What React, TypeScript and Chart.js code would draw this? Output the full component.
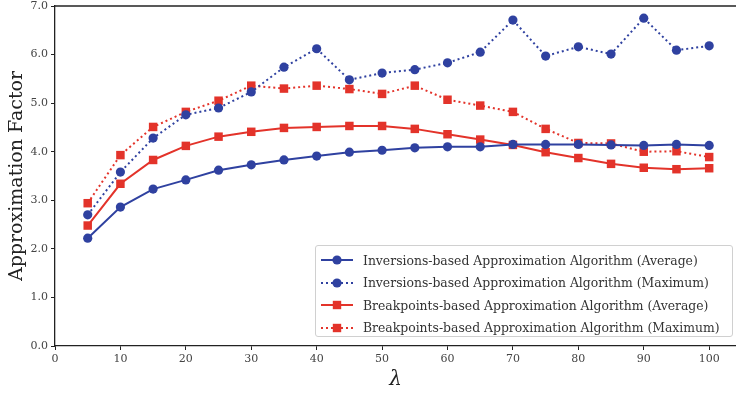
import React, { useEffect, useRef } from 'react';
import { Chart, registerables } from 'chart.js';

Chart.register(...registerables);

const lambdas = [5, 10, 15, 20, 25, 30, 35, 40, 45, 50, 55, 60, 65, 70, 75, 80, 85, 90, 95, 100];
const invAvg = [2.22, 2.86, 3.23, 3.42, 3.62, 3.73, 3.83, 3.91, 3.99, 4.03, 4.08, 4.10, 4.10, 4.15, 4.15, 4.15, 4.14, 4.13, 4.15, 4.13];
const invMax = [2.70, 3.58, 4.28, 4.76, 4.90, 5.23, 5.74, 6.12, 5.48, 5.62, 5.69, 5.83, 6.05, 6.71, 5.97, 6.16, 6.01, 6.75, 6.09, 6.18];
const bpAvg = [2.48, 3.34, 3.83, 4.12, 4.31, 4.41, 4.49, 4.51, 4.53, 4.53, 4.47, 4.36, 4.25, 4.14, 3.99, 3.87, 3.75, 3.67, 3.64, 3.66];
const bpMax = [2.94, 3.93, 4.51, 4.82, 5.05, 5.36, 5.30, 5.36, 5.29, 5.19, 5.36, 5.07, 4.95, 4.82, 4.47, 4.18, 4.17, 4.00, 4.01, 3.89];
const seriesLabels = [
  'Inversions-based Approximation Algorithm (Average)',
  'Inversions-based Approximation Algorithm (Maximum)',
  'Breakpoints-based Approximation Algorithm (Average)',
  'Breakpoints-based Approximation Algorithm (Maximum)',
];
const yTicks = [0, 1, 2, 3, 4, 5, 6, 7];
const xTicks = [0, 10, 20, 30, 40, 50, 60, 70, 80, 90, 100];

const BLUE = '#2f41a0';
const RED = '#e3332a';
const SERIF = '"DejaVu Serif", serif';

const topBorder = {
  id: 'topBorder',
  afterDraw(chart: any) {
    const { ctx, chartArea } = chart;
    ctx.save();
    ctx.strokeStyle = '#222';
    ctx.lineWidth = 1.3;
    ctx.beginPath();
    ctx.moveTo(chartArea.left, chartArea.top);
    ctx.lineTo(chartArea.right, chartArea.top);
    ctx.stroke();
    ctx.restore();
  },
};

function mk(values: number[]) {
  return lambdas.map((x, i) => ({ x, y: values[i] }));
}

const styles = [
  { color: BLUE, dash: [] as number[], shape: 'circle' },
  { color: BLUE, dash: [2, 3], shape: 'circle' },
  { color: RED, dash: [] as number[], shape: 'rect' },
  { color: RED, dash: [2, 3], shape: 'rect' },
];

function Sample({ s }: { s: any }) {
  return (
    <svg width={32} height={12} style={{ display: 'block' }}>
      <line x1={0} y1={6} x2={32} y2={6} stroke={s.color} strokeWidth={2} strokeDasharray={s.dash.length ? '2 3' : undefined} />
      {s.shape === 'circle' ? (
        <circle cx={16} cy={6} r={4.6} fill={s.color} />
      ) : (
        <rect x={11.8} y={1.8} width={8.4} height={8.4} fill={s.color} />
      )}
    </svg>
  );
}

export default function App() {
  const ref = useRef<HTMLCanvasElement>(null);
  useEffect(() => {
    document.body.style.margin = '0';
    const all = [invAvg, invMax, bpAvg, bpMax];
    const chart = new Chart(ref.current as HTMLCanvasElement, {
      type: 'line',
      data: {
        datasets: all.map((v, i) => ({
          label: seriesLabels[i],
          data: mk(v),
          borderColor: styles[i].color,
          backgroundColor: styles[i].color,
          borderWidth: 2,
          borderDash: styles[i].dash,
          pointStyle: styles[i].shape,
          pointRadius: styles[i].shape === 'circle' ? 4.6 : 6,
          pointBorderWidth: 0,
          tension: 0,
          fill: false,
          clip: false,
        })),
      },
      options: {
        animation: false,
        responsive: false,
        layout: { autoPadding: false, padding: { top: 6, right: 0, left: 0, bottom: 0 } },
        plugins: { legend: { display: false }, tooltip: { enabled: false } },
        scales: {
          x: {
            type: 'linear',
            min: 0,
            max: 104.1,
            afterFit: (s: any) => { s.height = 48; s.paddingRight = 0; s.paddingLeft = 0; },
            afterBuildTicks: (s: any) => { s.ticks = xTicks.map((v) => ({ value: v })); },
            ticks: { font: { family: SERIF, size: 11 }, color: '#444', padding: 3, callback: (v: any) => String(v) },
            grid: { drawOnChartArea: false, drawTicks: true, tickLength: 4, color: '#222', tickWidth: 1 },
            border: { display: true, color: '#222', width: 1.3 },
            title: { display: true, text: 'λ', font: { family: SERIF, size: 20, style: 'italic' }, color: '#222', padding: { top: 0, bottom: 2 } },
          },
          y: {
            type: 'linear',
            min: 0,
            max: 7,
            afterFit: (s: any) => { s.width = 55; s.paddingTop = 0; s.paddingBottom = 0; },
            afterBuildTicks: (s: any) => { s.ticks = yTicks.map((v) => ({ value: v })); },
            ticks: { font: { family: SERIF, size: 11 }, color: '#444', padding: 3, callback: (v: any) => Number(v).toFixed(1) },
            grid: { drawOnChartArea: false, drawTicks: true, tickLength: 4, color: '#222', tickWidth: 1 },
            border: { display: true, color: '#222', width: 1.3 },
            title: { display: true, text: 'Approximation Factor', font: { family: SERIF, size: 19 }, color: '#222', padding: { top: 6, bottom: 0 } },
          },
        },
      },
      plugins: [topBorder],
    } as any);
    return () => chart.destroy();
  }, []);

  return (
    <div style={{ position: 'relative', width: 736, height: 394, overflow: 'hidden', background: '#fff' }}>
      <canvas ref={ref} width={736} height={394} style={{ display: 'block' }} />
      <div
        style={{
          position: 'absolute',
          left: 315,
          top: 245,
          width: 418,
          height: 92,
          border: '1px solid #d0d0d0',
          borderRadius: 3,
          background: 'rgba(255,255,255,0.85)',
          boxSizing: 'border-box',
          padding: '3px 0 0 5px',
        }}
      >
        {seriesLabels.map((lab, i) => (
          <div key={lab} style={{ display: 'flex', alignItems: 'center', height: 22.5 }}>
            <Sample s={styles[i]} />
            <span style={{ marginLeft: 10, fontFamily: SERIF, fontSize: 12.4, color: '#333', whiteSpace: 'nowrap' }}>{lab}</span>
          </div>
        ))}
      </div>
    </div>
  );
}
